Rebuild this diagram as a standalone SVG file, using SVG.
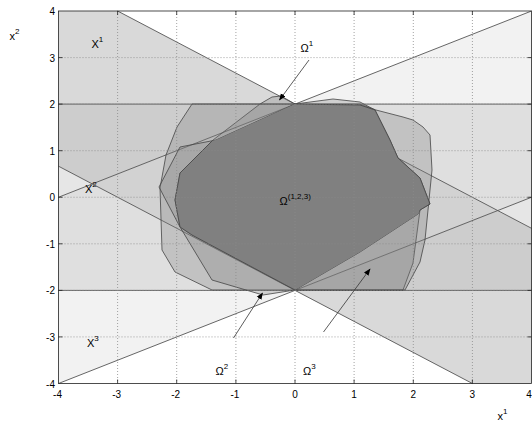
<svg xmlns="http://www.w3.org/2000/svg" width="532" height="421" viewBox="0 0 532 421">
<style>
.t{font-family:"Liberation Sans",Arial,sans-serif;font-size:11px;fill:#000}
.tk{font-family:"Liberation Sans",Arial,sans-serif;font-size:10px;fill:#000}
.sp{font-size:8px}
.band{stroke:none}
.ln{stroke:#555;stroke-width:0.9;fill:none}
.om{fill:#808080;fill-opacity:0.3;stroke:#444;stroke-width:0.8}
.grid{stroke:#8a8a8a;stroke-width:0.8;stroke-dasharray:1 2;fill:none}
.arr{stroke:#333;stroke-width:0.8;fill:none;marker-end:url(#ah)}
</style>
<defs>
<marker id="ah" viewBox="0 0 10 10" refX="9" refY="5" markerWidth="7" markerHeight="7" orient="auto" markerUnits="userSpaceOnUse">
<path d="M0,1 L10,5 L0,9 z" fill="#000"/>
</marker>
<clipPath id="c2"><polygon points="192,104 360,104 376,110 403,117 413,120 423,127 430,135 432,170 425,240 420,262 405,290 212,290 175,272 162,250 160,188 166,155 177,127"/></clipPath>
<clipPath id="c3"><polygon points="295,104 333,99 360,102 375,110 390,140 398,158 420,178 430,204 420,210 418,214 360,252 295,290 263,295 212,280 180,227 159,187 180,147 216,140"/></clipPath>
</defs>
<rect x="0" y="0" width="532" height="421" fill="#fff"/>
<g id="bands">
<polygon class="band" fill="#d9d9d9" points="58.5,11 117.6,11 295,104.1 58.5,104.1"/>
<polygon class="band" fill="#f2f2f2" points="295,104.1 531.5,11 531.5,104.1"/>
<polygon class="band" fill="#f2f2f2" points="58.5,383.5 295,290.4 58.5,290.4"/>
<polygon class="band" fill="#d9d9d9" points="295,290.4 472.4,383.5 531.5,383.5 531.5,290.4"/>
<polygon class="band" fill="#cdcdcd" points="58.5,104.1 295,104.1 92.3,183.9 58.5,166.2"/>
<polygon class="band" fill="#cdcdcd" points="295,290.4 531.5,290.4 531.5,228.3 497.7,210.6"/>
<polygon class="band" fill="#dfdfdf" points="58.5,197.25 92.3,183.9 295,290.4 58.5,290.4"/>
<polygon class="band" fill="#dfdfdf" points="295,104.1 531.5,104.1 531.5,197.25 497.7,210.6"/>
<polygon class="band" fill="#e6e6e6" points="58.5,197.25 58.5,166.2 92.3,183.9"/>
<polygon class="band" fill="#e6e6e6" points="531.5,197.25 531.5,228.3 497.7,210.6"/>
<polygon class="band" fill="#d2d2d2" points="295,104.1 497.7,210.6 295,290.4 92.3,183.9"/>
</g>
<g id="connectors">
<line class="ln" x1="117.6" y1="11" x2="531.5" y2="228.3"/>
<line class="ln" x1="58.5" y1="166.2" x2="472.4" y2="383.5"/>
<line class="ln" x1="58.5" y1="197.25" x2="531.5" y2="11"/>
<line class="ln" x1="58.5" y1="383.5" x2="531.5" y2="197.25"/>
<line class="ln" x1="58.5" y1="104.1" x2="531.5" y2="104.1"/>
<line class="ln" x1="58.5" y1="290.4" x2="531.5" y2="290.4"/>
</g>
<g id="omega1"><polygon class="om" points="260,104 272,97 281,96 295,104 360,105 375,110 390,140 398,158 420,178 430,204 420,210 413,263 403,290 295,290 192,235 180,227 175,200 180,173 213,140"/></g>
<g id="omega2"><polygon class="om" points="192,104 360,104 376,110 403,117 413,120 423,127 430,135 432,170 425,240 420,262 405,290 212,290 175,272 162,250 160,188 166,155 177,127"/></g>
<g id="omega3"><polygon class="om" points="295,104 333,99 360,102 375,110 390,140 398,158 420,178 430,204 420,210 418,214 360,252 295,290 263,295 212,280 180,227 159,187 180,147 216,140"/></g>
<g id="omega123" clip-path="url(#c2)"><polygon clip-path="url(#c3)" fill="#808080" stroke="#444" stroke-width="0.8" points="260,104 272,97 281,96 295,104 360,105 375,110 390,140 398,158 420,178 430,204 420,210 413,263 403,290 295,290 192,235 180,227 175,200 180,173 213,140"/></g>
<g id="grid">
<path class="grid" d="M117.6,11V383.5M176.7,11V383.5M235.9,11V383.5M295,11V383.5M354.1,11V383.5M413.3,11V383.5M472.4,11V383.5M58.5,57.6H531.5M58.5,104.1H531.5M58.5,150.7H531.5M58.5,197.25H531.5M58.5,243.8H531.5M58.5,290.4H531.5M58.5,336.9H531.5"/>
</g>
<g id="axes">
<rect x="58.5" y="11" width="473" height="372.5" fill="none" stroke="#222" stroke-width="0.8"/>
<path stroke="#222" stroke-width="0.8" d="M117.6,383.5v-4M176.7,383.5v-4M235.9,383.5v-4M295,383.5v-4M354.1,383.5v-4M413.3,383.5v-4M472.4,383.5v-4M117.6,11v4M176.7,11v4M235.9,11v4M295,11v4M354.1,11v4M413.3,11v4M472.4,11v4M58.5,57.6h4M58.5,104.1h4M58.5,150.7h4M58.5,197.25h4M58.5,243.8h4M58.5,290.4h4M58.5,336.9h4M531.5,57.6h-4M531.5,104.1h-4M531.5,150.7h-4M531.5,197.25h-4M531.5,243.8h-4M531.5,290.4h-4M531.5,336.9h-4"/>
<g class="tk" text-anchor="end">
<text x="55" y="15">4</text><text x="55" y="61.5">3</text><text x="55" y="108">2</text><text x="55" y="154.5">1</text><text x="55" y="201">0</text><text x="55" y="247.5">-1</text><text x="55" y="294">-2</text><text x="55" y="340.5">-3</text><text x="55" y="387.5">-4</text>
</g>
<g class="tk" text-anchor="middle">
<text x="57.5" y="398">-4</text><text x="116.6" y="398">-3</text><text x="175.7" y="398">-2</text><text x="234.9" y="398">-1</text><text x="295" y="398">0</text><text x="354.1" y="398">1</text><text x="413.3" y="398">2</text><text x="472.4" y="398">3</text>
</g>
<text class="tk" x="531.8" y="398" text-anchor="end">4</text>
<text class="t" x="9.5" y="40">x<tspan class="sp" dy="-6">2</tspan></text>
<text class="t" x="497.5" y="420">x<tspan class="sp" dy="-6">1</tspan></text>
</g>
<g id="labels">
<text class="t" x="91.5" y="48">X<tspan class="sp" dy="-6">1</tspan></text>
<text class="t" x="85" y="193">X<tspan class="sp" dy="-6">2</tspan></text>
<text class="t" x="87" y="347">X<tspan class="sp" dy="-6">3</tspan></text>
<text class="t" x="300.5" y="52">Ω<tspan class="sp" dy="-6">1</tspan></text>
<text class="t" x="279.5" y="205">Ω<tspan class="sp" dy="-6">(1,2,3)</tspan></text>
<text class="t" x="215.5" y="375">Ω<tspan class="sp" dy="-6">2</tspan></text>
<text class="t" x="303" y="375">Ω<tspan class="sp" dy="-6">3</tspan></text>
</g>
<g id="arrows">
<line class="arr" x1="309" y1="60" x2="279.5" y2="100"/>
<line class="arr" x1="233.5" y1="338" x2="262.5" y2="293"/>
<line class="arr" x1="323.5" y1="332" x2="370" y2="269"/>
</g>
</svg>
